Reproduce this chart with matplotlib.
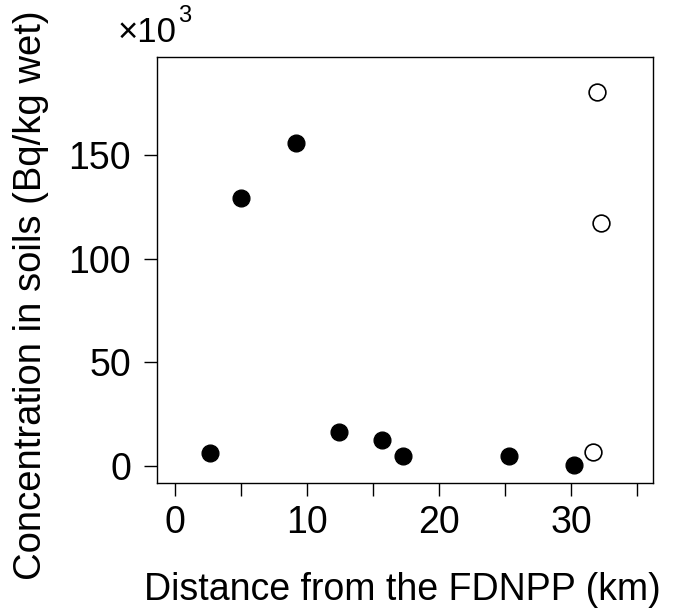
import matplotlib
matplotlib.use("Agg")
import matplotlib.pyplot as plt

# distance from the FDNPP (km) and concentration in soils (x10^3 Bq/kg wet)
dist_filled = [2.65, 4.98, 9.14, 12.42, 15.68, 17.25, 25.3, 30.2]
conc_filled = [6.1, 129.6, 156.2, 16.4, 12.6, 4.8, 4.8, 0.5]

dist_open = [31.7, 31.95, 32.25]
conc_open = [6.6, 180.5, 117.2]

x_ticks = [0, 5, 10, 15, 20, 25, 30, 35]
x_tick_labels = ["0", "", "10", "", "20", "", "30", ""]
y_ticks = [0, 50, 100, 150]

plt.rcParams['font.family'] = ['Liberation Sans', 'DejaVu Sans']

fig = plt.figure(figsize=(6.85, 6.13), dpi=100)
ax = fig.add_axes([0.2288, 0.2126, 0.7249, 0.6939])

ax.scatter(dist_filled, conc_filled, s=145, color='black', zorder=3)
ax.scatter(dist_open, conc_open, s=145, facecolors='white', edgecolors='black',
           linewidths=1.2, zorder=3)

ax.set_xlim(-1.39, 36.23)
ax.set_ylim(-8.07, 197.4)
ax.set_xticks(x_ticks)
ax.set_xticklabels(x_tick_labels)
ax.set_yticks(y_ticks)
ax.tick_params(axis='both', direction='out', length=9.4, width=1.0,
               labelsize=27)
ax.tick_params(axis='x', pad=7)
ax.tick_params(axis='y', pad=9)
for sp in ax.spines.values():
    sp.set_linewidth(1.0)

fig.text(402 / 685, 1 - 590 / 613, "Distance from the FDNPP (km)",
         ha='center', va='center', fontsize=27)
fig.text(31 / 685, 1 - 295 / 613, "Concentration in soils (Bq/kg wet)",
         ha='center', va='center', rotation=90, fontsize=27.5)
fig.text(118 / 685, 1 - 42 / 613, "\u00d710", ha='left', va='baseline',
         fontsize=25)
fig.text(178 / 685, 1 - 22 / 613, "3", ha='left', va='baseline',
         fontsize=17)

fig.savefig("out.png", dpi=100)
